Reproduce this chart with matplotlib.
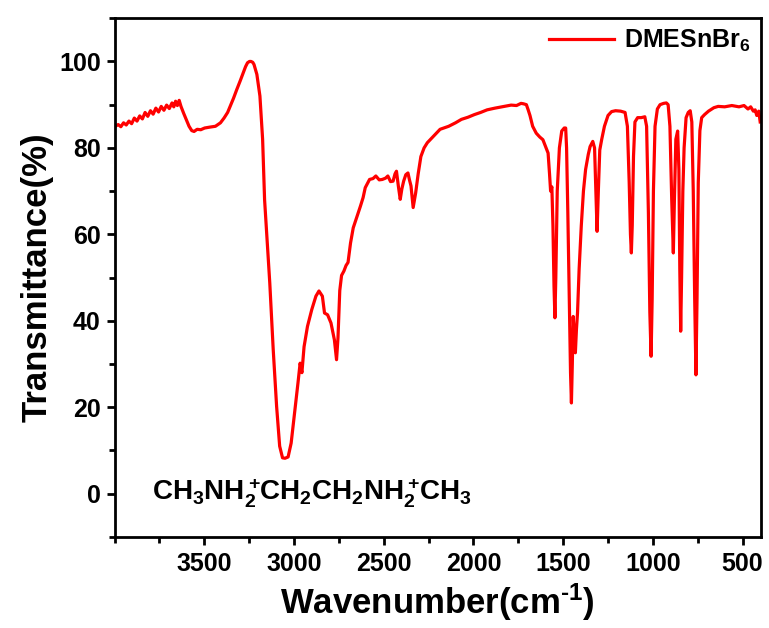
import matplotlib
matplotlib.use("Agg")
import matplotlib.pyplot as plt
from matplotlib.ticker import MultipleLocator

plt.rcParams['font.family'] = ['Liberation Sans', 'Noto Sans CJK SC', 'DejaVu Sans']
plt.rcParams['font.weight'] = 'bold'
plt.rcParams['axes.labelweight'] = 'bold'
plt.rcParams['mathtext.fontset'] = 'custom'
plt.rcParams['mathtext.rm'] = 'Liberation Sans'
plt.rcParams['mathtext.bf'] = 'Liberation Sans:bold'
plt.rcParams['mathtext.default'] = 'regular'

# FTIR spectrum of DMESnBr6, wavenumber (cm-1) vs transmittance (%)
wavenumber = [
    3995, 3980, 3965, 3950, 3935, 3920, 3905, 3890, 3875, 3860, 3845, 3830,
    3815, 3800, 3785, 3770, 3755, 3740, 3725, 3710, 3695, 3680, 3670, 3660,
    3650, 3640, 3630, 3615, 3600, 3585, 3570, 3557, 3540, 3520, 3498, 3470,
    3438, 3410, 3390, 3370, 3355, 3337, 3319, 3300, 3283, 3270, 3259, 3248,
    3240, 3230, 3223, 3207, 3190, 3175, 3164, 3152, 3135, 3116, 3097, 3080,
    3064, 3050, 3033, 3016, 2997, 2978, 2966, 2956, 2944, 2925, 2901, 2878,
    2861, 2842, 2830, 2813, 2794, 2775, 2763, 2755, 2745, 2735, 2722, 2710,
    2699, 2685, 2670, 2650, 2630, 2615, 2603, 2579, 2560, 2544, 2525, 2508,
    2490, 2477, 2462, 2448, 2437, 2429, 2418, 2408, 2399, 2389, 2377, 2365,
    2356, 2348, 2336, 2322, 2308, 2293, 2275, 2257, 2220, 2186, 2138, 2100,
    2067, 2030, 1995, 1960, 1924, 1880, 1828, 1790, 1760, 1735, 1721, 1705,
    1695, 1685, 1670, 1650, 1630, 1613, 1595, 1584, 1576, 1570, 1563, 1557,
    1551, 1546, 1541, 1533, 1521, 1508, 1494, 1486, 1481, 1474, 1466, 1459,
    1454, 1449, 1444, 1438, 1432, 1426, 1420, 1411, 1399, 1387, 1375, 1360,
    1350, 1335, 1325, 1318, 1311, 1304, 1296, 1285, 1270, 1250, 1230, 1208,
    1180, 1155, 1142, 1132, 1125, 1120, 1115, 1108, 1100, 1085, 1065, 1045,
    1035, 1025, 1017, 1010, 1004, 997, 988, 975, 960, 940, 925, 915,
    905, 895, 886, 880, 872, 862, 855, 850, 845, 840, 833, 826,
    815, 803, 792, 783, 775, 767, 760, 754, 747, 738, 728, 712,
    690, 660, 636, 600, 560, 520, 492, 470, 455, 440, 430, 421,
    410, 402,
]
transmittance = [
    85.0, 85.4, 84.9, 85.8, 85.3, 86.2, 85.6, 86.9, 86.2, 87.4, 86.7, 88.2,
    87.3, 88.6, 87.8, 89.2, 88.3, 89.6, 88.7, 89.9, 89.1, 90.4, 89.5, 90.8,
    89.8, 91.0, 89.6, 88.0, 86.5, 85.0, 84.0, 83.8, 84.3, 84.2, 84.6, 84.8,
    85.0, 85.8, 86.9, 88.2, 89.7, 91.5, 93.5, 95.5, 97.4, 98.8, 99.7, 100.0,
    100.0, 99.8, 99.3, 97.0, 92.0, 82.0, 68.0, 60.0, 48.7, 33.4, 20.2, 11.0,
    8.3, 8.2, 8.5, 11.7, 18.6, 25.6, 30.2, 28.0, 34.0, 38.7, 42.6, 45.7,
    46.9, 45.7, 41.8, 41.4, 39.5, 35.6, 31.0, 36.0, 47.0, 50.5, 51.5, 52.8,
    53.5, 58.0, 61.5, 64.0, 66.5, 68.5, 70.8, 72.7, 72.9, 73.5, 72.6, 72.7,
    73.0, 73.5, 72.2, 72.3, 74.0, 74.6, 71.0, 68.1, 70.5, 72.3, 73.8, 74.2,
    72.5, 71.2, 66.2, 69.6, 74.0, 78.0, 80.0, 81.2, 82.8, 84.3, 85.0, 85.8,
    86.6, 87.1, 87.7, 88.2, 88.8, 89.2, 89.6, 89.9, 89.8, 90.3, 90.2, 90.0,
    88.8, 87.5, 85.0, 83.4, 82.5, 81.9, 80.0, 78.8, 74.0, 70.0, 71.0, 62.0,
    48.0, 40.7, 50.0, 70.0, 80.0, 83.9, 84.6, 84.6, 80.0, 65.0, 45.0, 28.0,
    21.0, 30.0, 41.0, 36.0, 32.6, 38.0, 41.8, 52.0, 62.0, 70.0, 75.0, 78.5,
    80.3, 81.5, 80.0, 70.0, 60.7, 70.0, 79.5, 82.0, 85.0, 87.5, 88.4, 88.6,
    88.5, 88.2, 85.0, 72.0, 60.0, 55.7, 62.0, 78.0, 86.0, 87.0, 87.0, 87.2,
    85.0, 65.0, 42.0, 31.8, 45.0, 70.0, 85.0, 89.0, 90.0, 90.3, 90.4, 90.0,
    85.0, 68.0, 55.7, 68.0, 82.0, 83.9, 75.0, 52.0, 37.6, 50.0, 70.0, 80.0,
    87.0, 88.2, 88.6, 86.0, 70.0, 45.0, 27.5, 45.0, 72.0, 84.0, 87.0, 87.7,
    88.5, 89.3, 89.6, 89.5, 89.8, 89.5, 89.8, 89.0, 89.5, 88.5, 88.8, 87.5,
    88.5, 86.0,
]

fig = plt.figure(figsize=(7.69, 6.28), dpi=100)
ax = fig.add_axes([0.149, 0.145, 0.840, 0.826])

ax.plot(wavenumber, transmittance, color='#ff0000', lw=2.3, label='DMESnBr$_6$')

ax.set_xlim(4000, 400)
ax.set_ylim(-10, 110)
ax.xaxis.set_minor_locator(MultipleLocator(250))
ax.yaxis.set_minor_locator(MultipleLocator(10))
ax.set_xticks([3500, 3000, 2500, 2000, 1500, 1000, 500])
ax.set_yticks([0, 20, 40, 60, 80, 100])

for s in ax.spines.values():
    s.set_linewidth(2)
ax.tick_params(axis='x', which='major', direction='out', length=6, width=2, labelsize=18, pad=5)
ax.tick_params(axis='y', which='major', direction='out', length=6, width=2, labelsize=18, pad=4)
ax.tick_params(which='minor', direction='out', length=4, width=2)

ax.set_xlabel('Wavenumber$\\mathrm{(}$cm$^{\u2010 1}$$\\mathrm{)}$', fontsize=25, labelpad=4)
ax.set_ylabel('Transmittance(%)', fontsize=25, labelpad=4)

# stacked NH2+ groups, pulled back a little so the next atom sits close
formula = r'$CH_3NH_2^+\!CH_2CH_2NH_2^+\!CH_3$'
ax.text(3790, -1.5, formula, fontsize=20, fontweight='bold', ha='left', va='baseline')

leg = ax.legend(loc='upper right', frameon=False, fontsize=18, handlelength=2.6,
                handletextpad=0.4, borderaxespad=0.1, borderpad=0.3)

fig.savefig('out.png', dpi=100)
